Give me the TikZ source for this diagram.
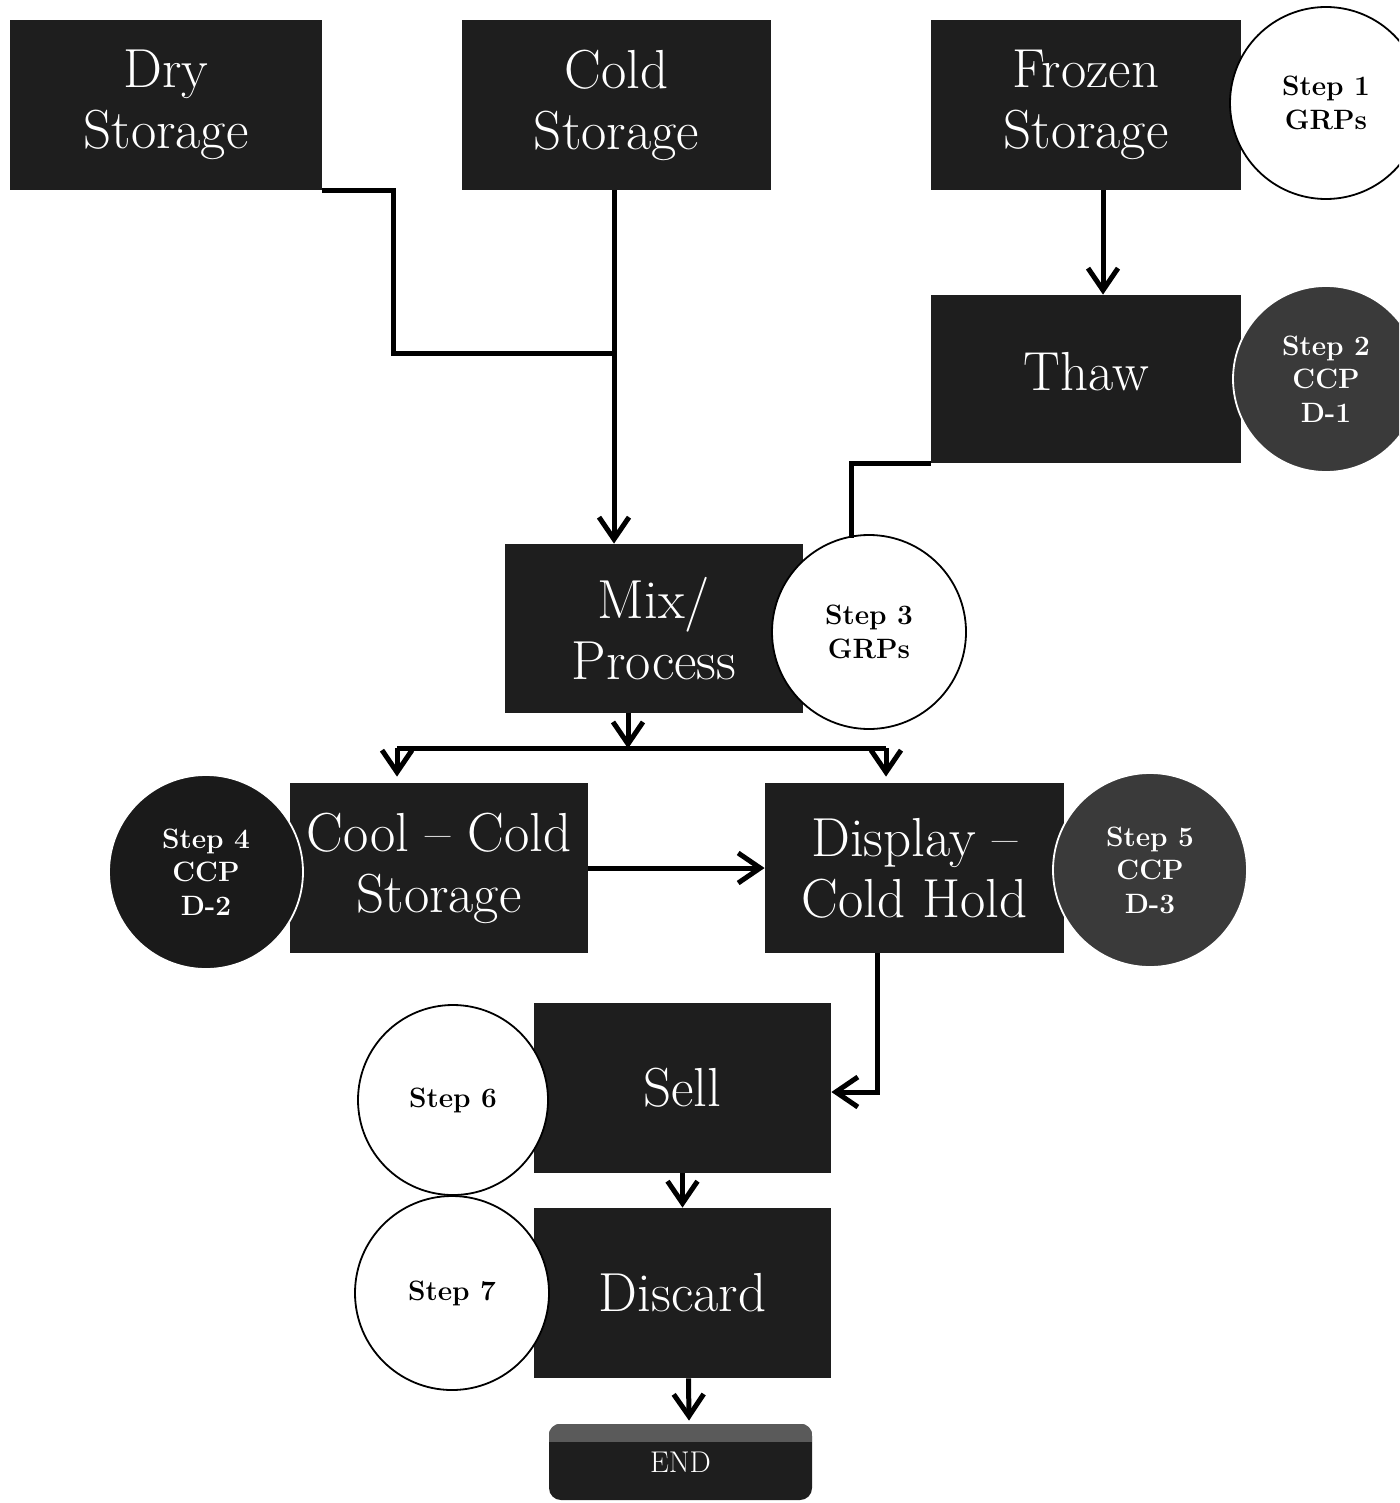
\documentclass[tikz,border=0pt]{standalone}
\usetikzlibrary{arrows.meta,calc}
\definecolor{boxc}{HTML}{1E1E1E}
\definecolor{ccpgray}{HTML}{3A3A3A}
\definecolor{ccpdark}{HTML}{1A1A1A}
\definecolor{bandgray}{HTML}{5A5A5A}
\begin{document}
\begin{tikzpicture}[x=0.5pt,y=-0.5pt,
  blk/.style={rectangle, fill=boxc, text=white, inner sep=0pt, align=center,
    minimum width=#1, minimum height=85pt, font=\fontsize{27.5}{30.5}\selectfont},
  blk/.default=155pt,
  wcirc/.style={circle, draw=black, line width=0.9pt, fill=white, inner sep=0pt,
    minimum size=97pt, align=center, font=\bfseries\fontsize{14}{16.75}\selectfont},
  gcirc/.style={circle, draw=white, line width=0.9pt, fill=ccpgray, text=white, inner sep=0pt,
    minimum size=94pt, align=center, font=\bfseries\fontsize{14}{16.75}\selectfont},
  dcirc/.style={gcirc, fill=ccpdark},
  conn/.style={line width=2.5pt, draw=black},
  arr/.style={conn, -{Straight Barb[length=11pt, width=15pt, line width=2.5pt]}},
]
\useasboundingbox (0,0) rectangle (1399,1503);
\clip (0,0) rectangle (1399,1503);
\fill[white] (0,0) rectangle (1399,1503);

% boxes
\node[blk=156pt] (dry) at (166,105) {Dry\\Storage};
\node[blk=154.5pt] (cold) at (616.5,105) {Cold\\Storage};
\node[blk=155pt] (frozen) at (1086,105) {Frozen\\Storage};
\node[blk=155pt, minimum height=84pt] (thaw) at (1086,379) {\raisebox{8pt}{Thaw}};
\node[blk=149pt, minimum height=84.5pt] (mix) at (654,628.5) {Mix/\\Process};
\node[blk=149pt] (cool) at (439,868) {Cool -- Cold\\Storage};
\node[blk=149.5pt] (disp) at (914.5,868) {Display --\\Cold Hold};
\node[blk=148.5pt] (sell) at (682.5,1088) {Sell};
\node[blk=148.5pt] (discard) at (682.5,1293) {Discard};
\node[rectangle, rounded corners=6pt, fill=boxc, text=white, minimum width=131.5pt,
  minimum height=38pt, inner sep=0pt, font=\fontsize{15}{18}\selectfont] (endn) at (680.5,1462) {\raisebox{-4pt}{END}};
\begin{scope}
  \clip[rounded corners=6pt] (endn.south west) rectangle (endn.north east);
  \fill[bandgray] (endn.north west) rectangle ($(endn.north east)+(0,18)$);
\end{scope}

% connectors
\coordinate (j1) at ($(cold.south)+(-2.5,163)$);
\draw[conn] (dry.south east) -- ++(71,0) |- (j1);
\draw[arr] ($(cold.south)+(-2.5,0)$) -- ($(cold.south |- mix.north)+(-2.5,0)$);
\draw[arr] ($(frozen.south)+(17,0)$) -- ($(thaw.north)+(17,0)$);

\coordinate (split) at ($(mix.south)+(-26,35)$);
\draw[arr] ($(mix.south)+(-26,0)$) -- (split);
\draw[conn] ($(split)+(-231,0)$) -- ($(split)+(258,0)$);
\draw[arr] ($(split)+(-231,0)$) -- ($(cool.north)+(-42,-6)$);
\draw[arr] ($(split)+(258,0)$) -- ($(disp.north)+(-28.5,-6)$);
\draw[arr] (cool.east) -- (disp.west);
\draw[arr] ($(disp.south)+(-37.5,0)$) |- ($(sell.east)+(0,4)$);
\draw[arr] (sell.south) -- (discard.north);
\draw[arr] ($(discard.south)+(6,0)$) -- ($(endn.north)+(8.5,-3)$);

% circles
\node[wcirc] (s3) at (869,632) {Step 3\\GRPs};
\draw[conn] (thaw.south west) -- ++(-79,0) coordinate (t1) -- ($(t1 |- s3.north)+(0,4)$);
\node[wcirc, minimum size=96pt] (s1) at (1326,103) {Step 1\\GRPs};
\node[gcirc, minimum size=93pt] (s2) at (1326,379) {Step 2\\CCP\\D-1};
\node[dcirc, minimum size=97pt] (s4) at (206,872) {Step 4\\CCP\\D-2};
\node[gcirc, minimum size=97pt] (s5) at (1150,870) {Step 5\\CCP\\D-3};
\node[wcirc, minimum size=95pt] (s6) at (453,1100) {Step 6};
\node[wcirc, minimum size=97pt] (s7) at (452,1293) {Step 7};
\end{tikzpicture}
\end{document}
